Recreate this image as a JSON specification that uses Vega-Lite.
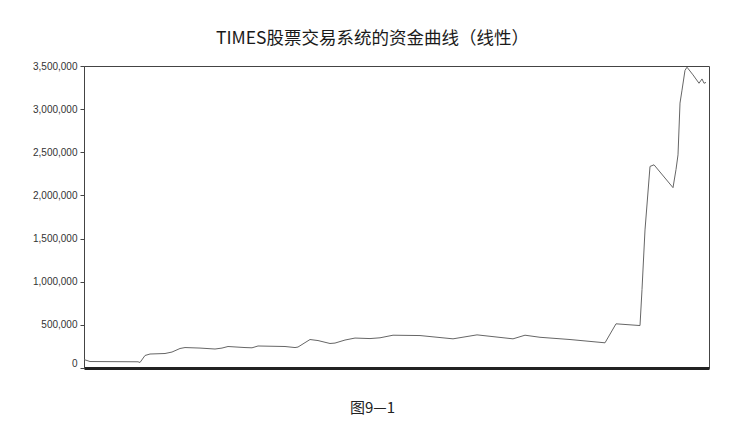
{
  "$schema": "https://vega.github.io/schema/vega-lite/v6.json",
  "width": 625,
  "height": 302,
  "autosize": {"type": "none"},
  "padding": {"left": 84, "top": 66, "right": 36, "bottom": 80},
  "background": "white",
  "title": {
    "text": "TIMES股票交易系统的资金曲线（线性）",
    "font": "Noto Sans CJK SC",
    "fontSize": 17.5,
    "fontWeight": "normal",
    "color": "#1a1a1a",
    "anchor": "middle",
    "dx": -24,
    "offset": 14
  },
  "config": {
    "view": {"stroke": "#444", "strokeWidth": 1},
    "axis": {"labelFont": "Liberation Sans", "labelColor": "#333", "titleFont": "Noto Sans CJK SC"}
  },
  "data": {
    "values": [
      {"t": 0, "capital": 98000},
      {"t": 6, "capital": 75000},
      {"t": 54, "capital": 72000},
      {"t": 56, "capital": 64000},
      {"t": 61, "capital": 145000},
      {"t": 66, "capital": 162000},
      {"t": 81, "capital": 168000},
      {"t": 88, "capital": 185000},
      {"t": 96, "capital": 226000},
      {"t": 101, "capital": 237000},
      {"t": 116, "capital": 231000},
      {"t": 131, "capital": 220000},
      {"t": 138, "capital": 231000},
      {"t": 144, "capital": 249000},
      {"t": 161, "capital": 237000},
      {"t": 168, "capital": 234000},
      {"t": 174, "capital": 255000},
      {"t": 201, "capital": 249000},
      {"t": 211, "capital": 237000},
      {"t": 214, "capital": 243000},
      {"t": 226, "capital": 330000},
      {"t": 234, "capital": 318000},
      {"t": 246, "capital": 284000},
      {"t": 251, "capital": 289000},
      {"t": 261, "capital": 324000},
      {"t": 271, "capital": 347000},
      {"t": 286, "capital": 341000},
      {"t": 296, "capital": 350000},
      {"t": 309, "capital": 380000},
      {"t": 336, "capital": 376000},
      {"t": 369, "capital": 338000},
      {"t": 393, "capital": 384000},
      {"t": 429, "capital": 338000},
      {"t": 441, "capital": 380000},
      {"t": 456, "capital": 356000},
      {"t": 486, "capital": 330000},
      {"t": 521, "capital": 292000},
      {"t": 532, "capital": 512000},
      {"t": 556, "capital": 492000},
      {"t": 558, "capital": 909000},
      {"t": 561, "capital": 1600000},
      {"t": 566, "capital": 2336000},
      {"t": 570, "capital": 2355000},
      {"t": 589, "capital": 2090000},
      {"t": 592, "capital": 2300000},
      {"t": 594, "capital": 2470000},
      {"t": 596, "capital": 3070000},
      {"t": 598, "capital": 3220000},
      {"t": 601, "capital": 3450000},
      {"t": 603, "capital": 3486000},
      {"t": 609, "capital": 3397000},
      {"t": 615, "capital": 3300000},
      {"t": 618, "capital": 3350000},
      {"t": 620, "capital": 3300000},
      {"t": 622, "capital": 3310000}
    ]
  },
  "mark": {"type": "line", "color": "#666", "strokeWidth": 1},
  "encoding": {
    "x": {
      "field": "t",
      "type": "quantitative",
      "scale": {"domain": [0, 625], "nice": false, "zero": false},
      "axis": {
        "title": "图9—1",
        "titleFontSize": 15,
        "titleFontWeight": "normal",
        "titleColor": "#222",
        "titlePadding": 32,
        "titleX": 288,
        "titleAlign": "center",
        "labels": false,
        "ticks": false,
        "grid": false,
        "domainColor": "#222",
        "domainWidth": 3
      }
    },
    "y": {
      "field": "capital",
      "type": "quantitative",
      "scale": {"domain": [0, 3500000], "nice": false},
      "axis": {
        "title": null,
        "values": [0, 500000, 1000000, 1500000, 2000000, 2500000, 3000000, 3500000],
        "format": ",d",
        "labelFontSize": 10,
        "tickSize": 4,
        "tickColor": "#444",
        "labelPadding": 3,
        "labelBaseline": {"condition": {"test": "datum.value === 0", "value": "bottom"}, "value": "middle"},
        "grid": false,
        "domainColor": "#444"
      }
    }
  }
}
